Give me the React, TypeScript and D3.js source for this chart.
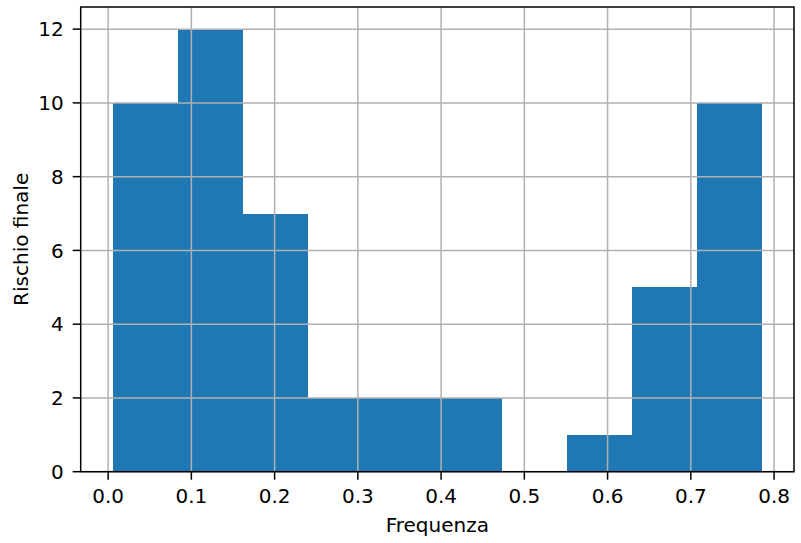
import * as d3 from "d3";
import React, { useEffect, useRef } from "react";

// histogram bin edges and counts
const binEdges = [0.006, 0.0839, 0.1618, 0.2397, 0.3176, 0.3955, 0.4734, 0.5513, 0.6292, 0.7071, 0.785];
const counts = [10, 12, 7, 2, 2, 2, 0, 1, 5, 10];
const xTicks = [0.0, 0.1, 0.2, 0.3, 0.4, 0.5, 0.6, 0.7, 0.8];
const yTicks = [0, 2, 4, 6, 8, 10, 12];
const xLabel = "Frequenza";
const yLabel = "Rischio finale";

const CONFIG = {
  width: 801,
  height: 543,
  left: 80.7,
  right: 794,
  top: 7,
  bottom: 471.7,
  fontSize: 20,
  tickLen: 8,
  barColor: "#1f77b4",
  gridColor: "#b0b0b0",
};

const App: React.FC = () => {
  const svgRef = useRef<SVGSVGElement>(null);

  useEffect(() => {
    const svg = d3.select(svgRef.current);
    svg.selectAll("*").remove();

    const lo = binEdges[0];
    const hi = binEdges[binEdges.length - 1];
    const pad = (hi - lo) * 0.05;
    const x = d3.scaleLinear().domain([lo - pad, hi + pad]).range([CONFIG.left, CONFIG.right]);
    const yMax = d3.max(counts)! * 1.05;
    const y = d3.scaleLinear().domain([0, yMax]).range([CONFIG.bottom, CONFIG.top]);

    const font = "DejaVu Sans, sans-serif";

    // bars
    svg
      .append("g")
      .selectAll("rect")
      .data(counts)
      .enter()
      .append("rect")
      .attr("x", (_: number, i: number) => x(binEdges[i]))
      .attr("width", (_: number, i: number) => x(binEdges[i + 1]) - x(binEdges[i]))
      .attr("y", (d: number) => y(d))
      .attr("height", (d: number) => y(0) - y(d))
      .attr("fill", CONFIG.barColor)
      .attr("shape-rendering", "crispEdges");

    // grid on top of the bars
    const grid = svg.append("g").attr("stroke", CONFIG.gridColor).attr("stroke-width", 1.5);
    xTicks.forEach((t) => {
      grid.append("line").attr("x1", x(t)).attr("x2", x(t)).attr("y1", CONFIG.top).attr("y2", CONFIG.bottom);
    });
    yTicks.forEach((t) => {
      grid.append("line").attr("x1", CONFIG.left).attr("x2", CONFIG.right).attr("y1", y(t)).attr("y2", y(t));
    });

    // spines
    svg
      .append("rect")
      .attr("x", CONFIG.left)
      .attr("y", CONFIG.top)
      .attr("width", CONFIG.right - CONFIG.left)
      .attr("height", CONFIG.bottom - CONFIG.top)
      .attr("fill", "none")
      .attr("stroke", "black")
      .attr("stroke-width", 1.5);

    // x ticks
    const xg = svg.append("g");
    xTicks.forEach((t) => {
      xg.append("line")
        .attr("x1", x(t)).attr("x2", x(t))
        .attr("y1", CONFIG.bottom).attr("y2", CONFIG.bottom + CONFIG.tickLen)
        .attr("stroke", "black").attr("stroke-width", 1.5);
      xg.append("text")
        .attr("x", x(t))
        .attr("y", CONFIG.bottom + 31.3)
        .attr("text-anchor", "middle")
        .attr("font-family", font)
        .attr("font-size", CONFIG.fontSize)
        .text(t.toFixed(1));
    });

    // y ticks
    const yg = svg.append("g");
    yTicks.forEach((t) => {
      yg.append("line")
        .attr("x1", CONFIG.left - CONFIG.tickLen).attr("x2", CONFIG.left)
        .attr("y1", y(t)).attr("y2", y(t))
        .attr("stroke", "black").attr("stroke-width", 1.5);
      yg.append("text")
        .attr("x", CONFIG.left - 17)
        .attr("y", y(t))
        .attr("dy", "0.36em")
        .attr("text-anchor", "end")
        .attr("font-family", font)
        .attr("font-size", CONFIG.fontSize)
        .text(String(t));
    });

    // axis labels
    svg
      .append("text")
      .attr("x", (CONFIG.left + CONFIG.right) / 2)
      .attr("y", 531.5)
      .attr("text-anchor", "middle")
      .attr("font-family", font)
      .attr("font-size", CONFIG.fontSize)
      .text(xLabel);

    svg
      .append("text")
      .attr("transform", `translate(27.5, ${(CONFIG.top + CONFIG.bottom) / 2}) rotate(-90)`)
      .attr("text-anchor", "middle")
      .attr("font-family", font)
      .attr("font-size", CONFIG.fontSize)
      .text(yLabel);
  }, []);

  return (
    <svg
      ref={svgRef}
      width={CONFIG.width}
      height={CONFIG.height}
      style={{ position: "absolute", left: 0, top: 0, background: "white" }}
    />
  );
};

export default App;
